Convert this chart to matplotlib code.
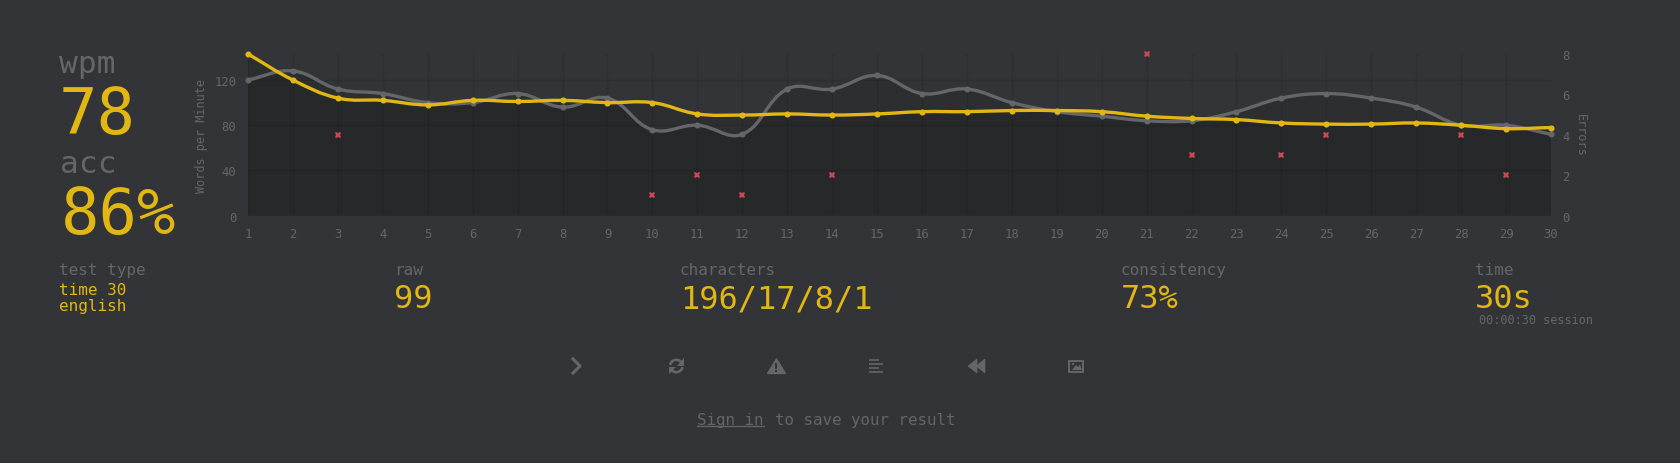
import numpy as np
import matplotlib
matplotlib.use("Agg")
import matplotlib.pyplot as plt
from matplotlib.path import Path
from matplotlib.patches import PathPatch, Polygon, Rectangle, Circle, Wedge

W, H = 1681, 464
BG = "#323437"; MAIN = "#e2b714"; SUB = "#646669"; ERR = "#ca4754"

seconds = list(range(1, 31))
raw = [120, 128, 112, 108, 100, 100, 108, 96, 104, 76, 80, 72, 112, 112, 124, 108, 112, 100, 92, 88, 84, 84, 92, 104, 108, 104, 96, 80, 80, 72]
wpm = [143, 120, 104, 102, 98, 102, 101, 102, 100, 100, 90, 89, 90, 89, 90, 92, 92, 93, 93, 92, 88, 86, 85, 82, 81, 81, 82, 80, 77, 78]
err_x = [3, 10, 11, 12, 14, 21, 22, 24, 25, 28, 29]
err_y = [4, 1, 2, 1, 2, 8, 3, 3, 4, 4, 2]
left_y_ticks = [0, 40, 80, 120]
right_y_ticks = [0, 2, 4, 6, 8]
y_max = 143
stats = [("raw", "99", 394), ("characters", "196/17/8/1", 680), ("consistency", "73%", 1121), ("time", "30s", 1475)]

plt.rcParams["font.family"] = ["DejaVu Sans Mono"]
fig = plt.figure(figsize=(W / 100, H / 100), dpi=100, facecolor=BG)

L, R, T, B = 248, 1551, 55, 216.7
ax = fig.add_axes([L / W, 1 - B / H, (R - L) / W, (B - T) / H], facecolor="none")
ax.set_xlim(1, 30)
ax.set_ylim(0, y_max)
for s in ax.spines.values():
    s.set_visible(False)
ax.set_xticks(seconds)
ax.set_yticks(left_y_ticks)
ax.grid(True, color="black", alpha=0.09, lw=1, zorder=0)
ax.tick_params(length=0, colors=SUB, labelsize=8.8)
ax.tick_params(axis="x", pad=8)
ax.tick_params(axis="y", pad=8.3)
ax.set_ylabel("Words per Minute", color=SUB, fontsize=8.5)
ax.yaxis.set_label_coords((208.5 - L) / (R - L), 0.5)


def spline(x, y, t=0.4):
    """Bezier path through the data, same construction as a Chart.js line."""
    x = np.asarray(x, float); y = np.asarray(y, float)
    n = len(x)
    verts = [(x[0], y[0])]; codes = [Path.MOVETO]
    sx = (R - L) / 29; sy = (B - T) / y_max
    px, py = x * sx, y * sy
    cn = []; cp = []
    for i in range(n):
        a = max(i - 1, 0); b = min(i + 1, n - 1)
        d01 = np.hypot(px[i] - px[a], py[i] - py[a]); d12 = np.hypot(px[b] - px[i], py[b] - py[i])
        s01 = d01 / (d01 + d12); s12 = d12 / (d01 + d12)
        fa = t * s01; fb = t * s12
        cp.append((x[i] - fa * (x[b] - x[a]), y[i] - fa * (y[b] - y[a])))
        cn.append((x[i] + fb * (x[b] - x[a]), y[i] + fb * (y[b] - y[a])))
    for i in range(n - 1):
        verts += [cn[i], cp[i + 1], (x[i + 1], y[i + 1])]
        codes += [Path.CURVE4] * 3
    return verts, codes


for ys, col, z in [(raw, SUB, 3), (wpm, MAIN, 4)]:
    v, c = spline(seconds, ys)
    fv = v + [(30, 0), (1, 0), (1, ys[0])]
    fc = c + [Path.LINETO] * 3
    ax.add_patch(PathPatch(Path(fv, fc), fc=(0, 0, 0, 0.11), ec="none", zorder=1))
    ax.add_patch(PathPatch(Path(v, c), fc="none", ec=col, lw=2.4, zorder=z, clip_on=False))
    ax.plot(seconds, ys, "o", ms=4.4, color=col, mew=0, zorder=z, clip_on=False)

ax2 = ax.twinx()
ax2.set_ylim(0, 8)
ax2.set_yticks(right_y_ticks)
for s in ax2.spines.values():
    s.set_visible(False)
ax2.tick_params(length=0, colors=SUB, labelsize=8.8, pad=8)
ax2.set_ylabel("Errors", color=SUB, fontsize=8.5, rotation=270, va="center")
ax2.yaxis.set_label_coords((1580.5 - L) / (R - L), 0.5)
ax2.plot(err_x, err_y, "X", ms=4.4, color=ERR, mew=0, ls="none", zorder=6, clip_on=False)


def txt(x, y, s, size, color, **k):
    k.setdefault("va", "baseline")
    fig.text(x / W, 1 - y / H, s, fontsize=size, color=color, **k)


txt(59, 72.7, "wpm", 22.5, SUB)
txt(59, 134, "78", 46, MAIN)
txt(60, 172.7, "acc", 22.5, SUB)
txt(61, 234, "86%", 46, MAIN)
txt(59, 275, "test type", 11.5, SUB)
txt(59, 295, "time 30", 11.5, MAIN)
txt(59, 311, "english", 11.5, MAIN)
for lab, val, x in stats:
    txt(x, 275, lab, 11.5, SUB)
    txt(x, 308, val, 23, MAIN)
txt(1479, 324, "00:00:30 session", 8.6, SUB)
txt(697, 425, "Sign in", 11.4, SUB)
txt(775, 425, "to save your result", 11.4, SUB)

# page chrome drawn in pixel coordinates
ov = fig.add_axes([0, 0, 1, 1], facecolor="none")
ov.set_xlim(0, W); ov.set_ylim(H, 0); ov.axis("off")
ov.plot([697, 764], [427, 427], color=SUB, lw=0.9)
# next
ov.plot([573, 580, 573], [360, 367, 374], color=SUB, lw=2.2)
# restart
cx, cy = 676.3, 367
ov.add_patch(Wedge((cx, cy), 7.5, 190, 340, width=2.6, fc=SUB, ec="none"))
ov.add_patch(Wedge((cx, cy), 7.5, 10, 160, width=2.6, fc=SUB, ec="none"))
ov.add_patch(Polygon([(684, 359), (684, 366.5), (677, 366.5)], fc=SUB, ec="none"))
ov.add_patch(Polygon([(668.6, 375), (668.6, 367.5), (675.6, 367.5)], fc=SUB, ec="none"))
# warning
ov.add_patch(Polygon([(776.5, 360), (785.5, 374.5), (767.5, 374.5)], fc=SUB, ec=SUB, lw=1, joinstyle="round"))
ov.add_patch(Rectangle((775.5, 364), 2, 5.5, fc=BG, ec="none"))
ov.add_patch(Rectangle((775.5, 370.5), 2, 2, fc=BG, ec="none"))
# words list
for y, x2 in [(361, 879), (364.8, 883), (368.8, 879), (372.8, 883)]:
    ov.plot([869, x2], [y, y], color=SUB, lw=1.2, solid_capstyle="butt")
# rewind
ov.add_patch(Polygon([(968, 367), (977, 360), (977, 374)], fc=SUB, ec=SUB, lw=0.5))
ov.add_patch(Polygon([(976, 367), (985, 360), (985, 374)], fc=SUB, ec=SUB, lw=0.5))
# image
ov.add_patch(Rectangle((1069, 362), 14.5, 11, fc="none", ec=SUB, lw=1.4))
ov.add_patch(Polygon([(1072, 371), (1076, 366), (1078, 368), (1080, 365.5), (1082, 371)], fc=SUB, ec="none"))
ov.add_patch(Circle((1073, 365), 1.2, fc=SUB, ec="none"))

fig.savefig("out.png", dpi=100, facecolor=BG)
